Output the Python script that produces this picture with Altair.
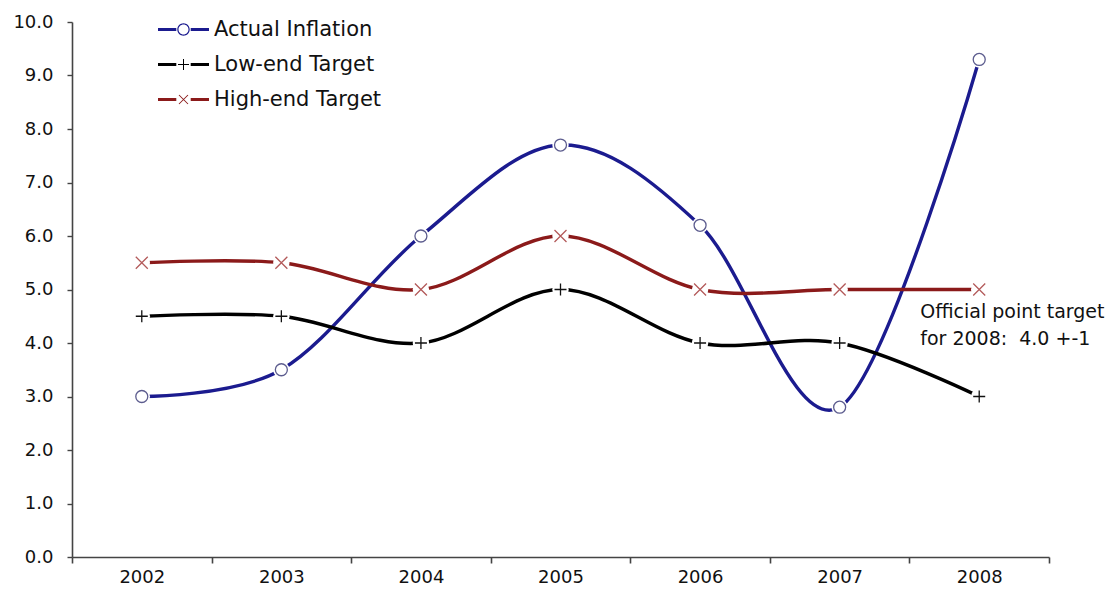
import altair as alt
import pandas as pd

# ---------------- data ----------------
years = ["2002", "2003", "2004", "2005", "2006", "2007", "2008"]
series_names = ["Actual Inflation", "Low-end Target", "High-end Target"]
actual = [3.0, 3.5, 6.0, 7.7, 6.2, 2.8, 9.3]
low_end = [4.5, 4.5, 4.0, 5.0, 4.0, 4.0, 3.0]
high_end = [5.5, 5.5, 5.0, 6.0, 5.0, 5.0, 5.0]
y_ticks = [0, 1, 2, 3, 4, 5, 6, 7, 8, 9, 10]
anno_lines = ["Official point target", "for 2008:\u00a0 4.0 +-1"]
anno_year = ["2008"]
anno_value = [4.47]

# ---------------- styles ----------------
line_colors = ["#1b1b8f", "#000000", "#8b1a1a"]
marker_strokes = ["#5c5c8e", "#111111", "#b35a5a"]
marker_fills = ["#ffffff", "transparent", "transparent"]
marker_shapes = ["circle", "M-1,0H1M0,-1V1", "M-1,-1L1,1M1,-1L-1,1"]

# legend symbol paths (unit = 10px at size 400): thick segments + thin marker
seg = "M-2.55,-0.16H-0.72V0.16H-2.55Z M0.72,-0.16H2.55V0.16H0.72Z "
leg_circle = seg + ("M0.62,0 A0.62,0.62 0 1,1 -0.62,0 A0.62,0.62 0 1,1 0.62,0 Z "
                    "M0.5,0 A0.5,0.5 0 1,0 -0.5,0 A0.5,0.5 0 1,0 0.5,0 Z")
leg_plus = seg + "M-0.55,-0.05H0.55V0.05H-0.55Z M-0.05,-0.55H0.05V0.55H-0.05Z"
leg_cross = seg + ("M-0.415,-0.485L0.485,0.415L0.415,0.485L-0.485,-0.415Z "
                   "M0.415,-0.485L0.485,-0.415L-0.415,0.485L-0.485,0.415Z")
legend_shapes = [leg_circle, leg_plus, leg_cross]

rows = []
for name, vals in zip(series_names, [actual, low_end, high_end]):
    for yr, v in zip(years, vals):
        rows.append({"year": yr, "series": name, "value": v})
df = pd.DataFrame(rows)
anno_df = pd.DataFrame({"year": anno_year, "value": anno_value, "text": [anno_lines]})

FONT = "DejaVu Sans"

x_enc = alt.X(
    "year:O",
    sort=years,
    scale=alt.Scale(type="band", paddingInner=0, paddingOuter=0, domain=years),
    axis=alt.Axis(
        title=None, labelAngle=0, tickBand="extent", labelFontSize=18,
        labelFont=FONT, labelColor="#111111", labelPadding=5, tickSize=6,
        domainColor="#444444", tickColor="#444444", domainWidth=1.6, tickWidth=1.6,
        grid=False,
    ),
)
y_enc = alt.Y(
    "value:Q",
    scale=alt.Scale(domain=[0, 10], nice=False, zero=True),
    axis=alt.Axis(
        title=None, values=y_ticks, format=".1f", labelFontSize=18, labelFont=FONT,
        labelColor="#111111", labelPadding=14, tickSize=5, domainColor="#444444",
        tickColor="#444444", domainWidth=1.6, tickWidth=1.4, grid=False,
    ),
)

lines = alt.Chart(df).mark_line(interpolate="cardinal", strokeWidth=3.4).encode(
    x=x_enc,
    y=y_enc,
    color=alt.Color("series:N", scale=alt.Scale(domain=series_names, range=line_colors), legend=None),
)

halo = alt.Chart(df).mark_point(
    shape="circle", filled=True, size=270, color="white", opacity=1
).encode(x=x_enc, y=y_enc)

markers = alt.Chart(df).mark_point(size=144, strokeWidth=1.3, opacity=1, filled=False).encode(
    x=x_enc,
    y=y_enc,
    shape=alt.Shape("series:N", scale=alt.Scale(domain=series_names, range=marker_shapes), legend=None),
    stroke=alt.Stroke("series:N", scale=alt.Scale(domain=series_names, range=marker_strokes), legend=None),
    fill=alt.Fill("series:N", scale=alt.Scale(domain=series_names, range=marker_fills), legend=None),
)

legend_props = dict(
    title=None, orient="none", legendX=101, legendY=-3, padding=0,
    symbolSize=400, labelFontSize=21, labelFont=FONT, labelColor="#111111",
    labelOffset=20, rowPadding=13, symbolStrokeWidth=0, symbolOpacity=1,
    labelLimit=400,
)

legend_layer = alt.Chart(df).mark_point(filled=True, size=400, strokeWidth=0).encode(
    x=x_enc,
    y=y_enc,
    color=alt.Color(
        "series:N",
        scale=alt.Scale(domain=series_names, range=line_colors),
        legend=alt.Legend(**legend_props),
    ),
    shape=alt.Shape(
        "series:N",
        scale=alt.Scale(domain=series_names, range=legend_shapes),
        legend=alt.Legend(**legend_props),
    ),
).transform_filter("false")

anno = alt.Chart(anno_df).mark_text(
    align="left", baseline="alphabetic", dx=-59, fontSize=19, font=FONT,
    color="#111111", lineHeight=27,
).encode(x=x_enc, y=y_enc, text="text")

chart = (
    alt.layer(lines, halo, markers, legend_layer, anno)
    .resolve_scale(color="independent", shape="independent")
    .properties(
        width=977,
        height=535,
        autosize=alt.AutoSizeParams(type="none"),
        padding={"left": 64, "top": 14, "right": 63, "bottom": 33},
        background="white",
    )
    .configure_view(stroke=None)
)

chart.save("out.html", embed_options={"renderer": "svg", "actions": False})
